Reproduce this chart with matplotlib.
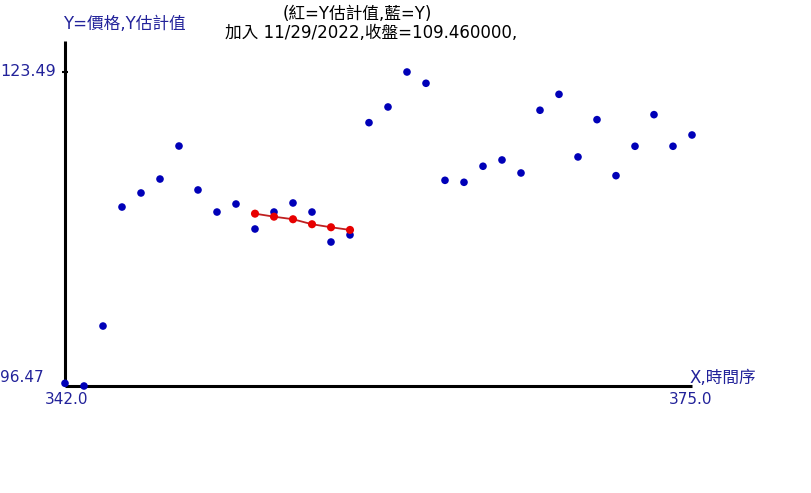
import matplotlib
matplotlib.use("Agg")
import matplotlib.pyplot as plt
import matplotlib.transforms as mtransforms

plt.rcParams['font.family'] = ['DejaVu Sans', 'Noto Sans CJK TC']

# time index and price (blue dots)
x_vals = [342, 343, 344, 345, 346, 347, 348, 349, 350, 351, 352, 353,
          354, 355, 356, 357, 358, 359, 360, 361, 362, 363, 364, 365,
          366, 367, 368, 369, 370, 371, 372, 373, 374, 375]
y_vals = [96.70, 96.47, 101.63, 111.87, 113.08, 114.28, 117.12, 113.34,
          111.44, 112.13, 109.98, 111.44, 112.22, 111.44, 108.86, 109.47,
          119.13, 120.48, 123.49, 122.52, 114.17, 114.00, 115.38, 115.92,
          114.80, 120.20, 121.57, 116.18, 119.39, 114.57, 117.10, 119.82,
          117.10, 118.07]

# estimated Y (red)
est_x = [352, 353, 354, 355, 356, 357]
est_y = [111.30, 111.04, 110.82, 110.39, 110.13, 109.90]

x_ticks = [342, 375]
x_tick_labels = ['342.0', '375.0']
y_ticks = [96.47, 123.49]
y_tick_labels = ['96.47', '123.49']

y_title = 'Y=價格,Y估計值'
x_title = 'X,時間序'
title1 = '(紅=Y估計值,藍=Y)'
title2 = '加入 11/29/2022,收盤=109.460000,'

W, H = 812, 493
label_col = '#22229a'
blue = '#0000b8'
red = '#e80000'
fs = 11
fs_title = 12

fig = plt.figure(figsize=(W / 100, H / 100), dpi=100)
# axes box in pixels: x 65..692, y 41..386 (from top)
ax = fig.add_axes([65 / W, (H - 386) / H, 627 / W, (386 - 41) / H])
ax.set_xlim(x_ticks[0], x_ticks[1])
ymin = y_ticks[0]
ymax = y_ticks[0] + (y_ticks[1] - y_ticks[0]) * (386 - 41) / (386 - 72)
ax.set_ylim(ymin, ymax)

for s in ['top', 'right']:
    ax.spines[s].set_visible(False)
for s in ['left', 'bottom']:
    ax.spines[s].set_linewidth(2.2)
    ax.spines[s].set_color('black')
    ax.spines[s].set_capstyle('butt')

ax.set_xticks([])
ax.set_yticks([y_ticks[1]])
ax.set_yticklabels([])
ax.tick_params(axis='y', length=5, width=1.5, direction='inout', color='black')

ax.plot(est_x, est_y, color='#c02020', lw=1.3, zorder=3, clip_on=False)
ax.scatter(x_vals, y_vals, s=30, color=blue, edgecolors='none', zorder=4, clip_on=False)
ax.scatter(est_x, est_y, s=34, color=red, edgecolors='none', zorder=5, clip_on=False)

# y tick labels, left aligned at the figure edge
ytrans = mtransforms.blended_transform_factory(fig.transFigure, ax.transData)
ax.text(0 / W, y_ticks[0] + 0.7, y_tick_labels[0], transform=ytrans, ha='left', va='center',
        color=label_col, fontsize=fs)
ax.text(0 / W, y_ticks[1], y_tick_labels[1], transform=ytrans, ha='left', va='center',
        color=label_col, fontsize=fs + 0.5)

# x tick labels
xtrans = mtransforms.blended_transform_factory(ax.transData, fig.transFigure)
ax.text(x_ticks[0] + 0.1, 1 - 400 / H, x_tick_labels[0], transform=xtrans, ha='center', va='center',
        color=label_col, fontsize=fs)
ax.text(x_ticks[1] - 0.05, 1 - 400 / H, x_tick_labels[1], transform=xtrans, ha='center', va='center',
        color=label_col, fontsize=fs)

# axis titles
fig.text(63 / W, 1 - 24 / H, y_title, ha='left', va='center', color=label_col, fontsize=fs_title)
fig.text(690 / W, 1 - 378 / H, x_title, ha='left', va='center', color=label_col, fontsize=fs_title)

# chart title
fig.text(283 / W, 1 - 14 / H, title1, ha='left', va='center', color='black', fontsize=fs_title)
fig.text(225 / W, 1 - 33 / H, title2, ha='left', va='center', color='black', fontsize=fs_title)

fig.savefig('out.png', dpi=100, facecolor='white')
